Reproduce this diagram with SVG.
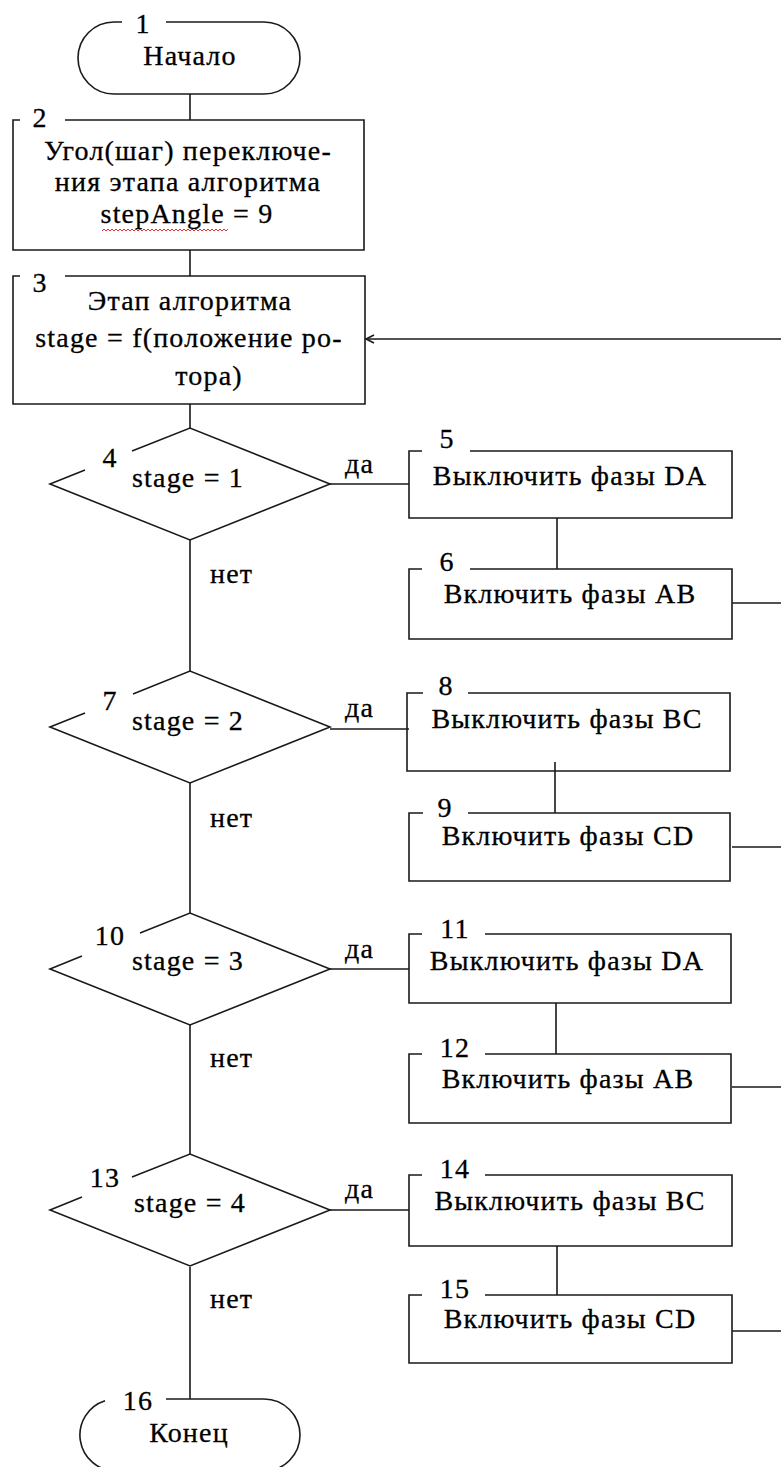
<svg xmlns="http://www.w3.org/2000/svg" width="781" height="1467" viewBox="0 0 781 1467">
<style>
.s{fill:none;stroke:#1a1a1a;stroke-width:1.6}
text{font-family:"Liberation Serif","Times New Roman",serif;font-size:28px;letter-spacing:1.2px;fill:#000;stroke:#000;stroke-width:0.3}
.c{text-anchor:middle}
</style>
<rect width="781" height="1467" fill="#fff"/>
<g id="connectors" class="s">
<path d="M190,94V120M190,250V276M190,404V428M190,540V671M190,783V913M190,1025V1154M190,1267V1399"/>
<path d="M330,484H409M330,729H409M330,969H409M330,1210H409"/>
<path d="M557,518V569M555,762V813M556,1003V1054M557,1246V1295"/>
<path d="M732,603H781M732,847H781M732,1087H781M732,1331H781"/>
<path d="M781,339H366"/>
<path d="M374,335L366,339L374,343"/>
</g>
<g id="n1"><path class="s" d="M166,22H264A36,36 0 0 1 264,94H114A36,36 0 0 1 114,22H122"/><text class="c" x="143" y="33">1</text><text class="c" x="190" y="65">Начало</text></g>
<g id="n2"><path class="s" d="M20,120H13V250H364V120H65"/><text class="c" x="40" y="127">2</text>
<text class="c" x="188" y="160">Угол(шаг) переключе-</text>
<text class="c" x="188" y="191">ния этапа алгоритма</text>
<text class="c" x="187" y="223">stepAngle = 9</text>
<polyline fill="none" stroke="#e03030" stroke-width="1" points="102,231 104,229 106,231 108,229 110,231 112,229 114,231 116,229 118,231 120,229 122,231 124,229 126,231 128,229 130,231 132,229 134,231 136,229 138,231 140,229 142,231 144,229 146,231 148,229 150,231 152,229 154,231 156,229 158,231 160,229 162,231 164,229 166,231 168,229 170,231 172,229 174,231 176,229 178,231 180,229 182,231 184,229 186,231 188,229 190,231 192,229 194,231 196,229 198,231 200,229 202,231 204,229 206,231 208,229 210,231 212,229 214,231 216,229 218,231 220,229 222,231 224,229 226,231 228,229"/></g>
<g id="n3"><path class="s" d="M20,276H13V404H365V276H65"/><text class="c" x="40" y="292">3</text>
<text class="c" x="190" y="310">Этап алгоритма</text>
<text class="c" x="189" y="347">stage = f(положение ро-</text>
<text class="c" x="209" y="385">тора)</text></g>
<g id="n4"><path class="s" d="M85,470L50,484L190,540L330,484L190,428L132,451"/><text class="c" x="110" y="467">4</text><text class="c" x="188" y="487">stage = 1</text><text x="345" y="473">да</text><text x="210" y="583">нет</text></g>
<g id="n5"><path class="s" d="M422,451H409V518H732V451H470"/><text class="c" x="447" y="448">5</text><text class="c" x="570" y="485">Выключить фазы DA</text></g>
<g id="n6"><path class="s" d="M422,569H409V639H732V569H470"/><text class="c" x="447" y="571">6</text><text class="c" x="570" y="603">Включить фазы AB</text></g>
<g id="n7"><path class="s" d="M85,713L50,727L190,783L330,727L190,671L133,694"/><text class="c" x="110" y="710">7</text><text class="c" x="188" y="730">stage = 2</text><text x="345" y="717">да</text><text x="210" y="827">нет</text></g>
<g id="n8"><path class="s" d="M423,693H407V771H730V693H468"/><text class="c" x="446" y="695">8</text><text class="c" x="567" y="728">Выключить фазы BC</text></g>
<g id="n9"><path class="s" d="M423,813H409V881H730V813H468"/><text class="c" x="445" y="817">9</text><text class="c" x="568" y="845">Включить фазы CD</text></g>
<g id="n10"><path class="s" d="M82,956L50,969L190,1025L330,969L190,913L140,933"/><text class="c" x="110" y="945">10</text><text class="c" x="188" y="970">stage = 3</text><text x="345" y="958">да</text><text x="210" y="1067">нет</text></g>
<g id="n11"><path class="s" d="M422,934H409V1003H731V934H485"/><text class="c" x="455" y="938">11</text><text class="c" x="567" y="970">Выключить фазы DA</text></g>
<g id="n12"><path class="s" d="M422,1054H409V1123H731V1054H485"/><text class="c" x="455" y="1057">12</text><text class="c" x="568" y="1088">Включить фазы AB</text></g>
<g id="n13"><path class="s" d="M82,1197L50,1210L190,1266L330,1210L190,1154L132,1177"/><text class="c" x="105" y="1187">13</text><text class="c" x="190" y="1212">stage = 4</text><text x="345" y="1198">да</text><text x="210" y="1308">нет</text></g>
<g id="n14"><path class="s" d="M422,1175H409V1246H732V1175H485"/><text class="c" x="455" y="1178">14</text><text class="c" x="570" y="1210">Выключить фазы BC</text></g>
<g id="n15"><path class="s" d="M422,1295H409V1363H732V1295H485"/><text class="c" x="455" y="1298">15</text><text class="c" x="570" y="1328">Включить фазы CD</text></g>
<g id="n16"><path class="s" d="M166,1399H264A36,36 0 0 1 264,1471H116A36,36 0 0 1 105,1400.7"/><text class="c" x="138" y="1410">16</text><text class="c" x="189" y="1442">Конец</text></g>
</svg>
